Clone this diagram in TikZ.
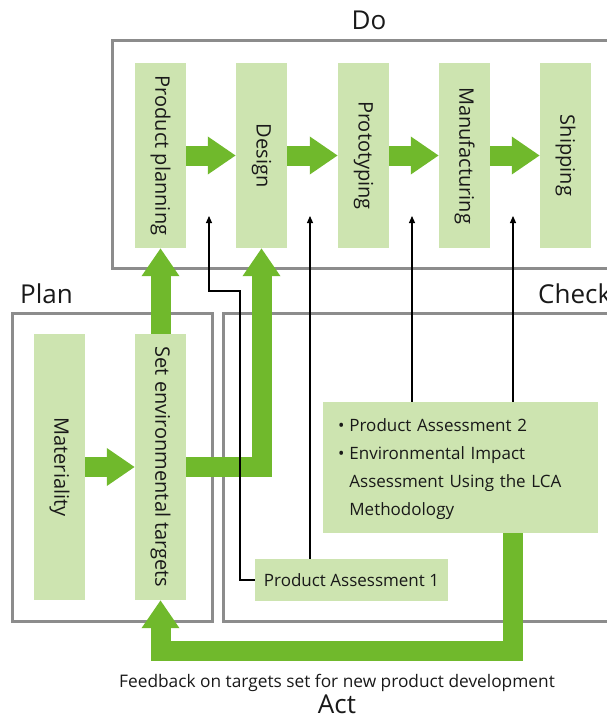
\documentclass[tikz,border=0pt]{standalone}
\usepackage{fontspec}
\setmainfont{Open Sans}
\usetikzlibrary{arrows.meta}
\definecolor{boxgreen}{RGB}{205,228,176}
\definecolor{arrgreen}{RGB}{112,185,44}
\definecolor{framegray}{RGB}{140,140,140}
\definecolor{txt}{RGB}{25,25,25}
\begin{document}
\begin{tikzpicture}[x=1pt,y=-1pt,
  frame/.style={draw=framegray,line width=3pt},
  stage/.style={fill=boxgreen,minimum width=51pt,minimum height=185pt,inner sep=0pt,
    font=\fontsize{20}{24}\selectfont,text=txt},
  planbox/.style={stage,minimum height=266pt},
  notebox/.style={fill=boxgreen,inner sep=0pt,font=\fontsize{17}{28}\selectfont,text=txt},
  phase/.style={font=\fontsize{26}{30}\selectfont,text=txt,inner sep=0pt},
  bigarrow/.style={draw=arrgreen,line width=20pt,
    -{Triangle[length=28pt 0 0,width=36pt 0 0]}},
  thinarrow/.style={draw=black,line width=1.1pt,
    -{Triangle[length=7pt 0 0,width=6pt 0 0]}}]
\useasboundingbox (0,0) rectangle (607,717);
\clip (0,0) rectangle (607,717);
% frames
\draw[frame] (112,41) rectangle (650,268);
\draw[frame] (12,313) rectangle (212,621);
\draw[frame] (223,313) rectangle (650,621);
% phase labels
\node[phase,anchor=base] (do) at (369,30) {Do};
\node[phase,anchor=base west] (plan) at (20,303) {Plan};
\node[phase,anchor=base west] (check) at (538,303) {Check};
\node[phase,anchor=base] (act) at (337,713) {Act};
\node[font=\fontsize{17.3}{20}\selectfont,text=txt,anchor=base,inner sep=0pt] (fb) at (337,687)
  {Feedback on targets set for new product development};
% stage boxes
\node[stage] (pp) at (160.5,155.5) {\rotatebox{-90}{Product planning}};
\node[stage] (design) at (261.5,155.5) {\rotatebox{-90}{Design}};
\node[stage] (proto) at (363.5,155.5) {\rotatebox{-90}{Prototyping}};
\node[stage] (manuf) at (464.5,155.5) {\rotatebox{-90}{Manufacturing}};
\node[stage] (ship) at (565.5,155.5) {\rotatebox{-90}{Shipping}};
\node[planbox] (mat) at (59.5,467) {\rotatebox{-90}{Materiality}};
\node[planbox] (set) at (160.5,467) {\rotatebox{-90}{Set environmental targets}};
\node[notebox,minimum width=275pt,minimum height=131pt,text width=245pt,align=left]
  (pa2) at (460.5,467.5)
  {\begin{tabular}{@{}l@{\hspace{5pt}}l@{}}
   \textbullet & Product Assessment 2\\
   \textbullet & Environmental Impact\\
   & Assessment Using the LCA\\
   & Methodology
   \end{tabular}};
\node[notebox,minimum width=193pt,minimum height=42pt] (pa1) at (351.5,580)
  {Product Assessment 1};
% coordinates for thin arrow tips
\coordinate (t1) at (209,216);
\coordinate (t2) at (310,216);
\coordinate (t3) at (412,216);
\coordinate (t4) at (513,216);
\coordinate (bend) at (240,291);
% green arrows
\draw[bigarrow] (pp.east) -- (design.west);
\draw[bigarrow] (design.east) -- (proto.west);
\draw[bigarrow] (proto.east) -- (manuf.west);
\draw[bigarrow] (manuf.east) -- (ship.west);
\draw[bigarrow] (mat.east) -- (set.west);
\draw[bigarrow] (set.north) -- (pp.south);
\draw[bigarrow] (set.east) -| (design.south);
\draw[bigarrow] (pa2.south -| t4) -- ++(0,118) -| (set.south);
% thin arrows
\draw[thinarrow] (pa1.west) -| (bend) -| (t1);
\draw[thinarrow] (pa1.north -| t2) -- (t2);
\draw[thinarrow] (pa2.north -| t3) -- (t3);
\draw[thinarrow] (pa2.north -| t4) -- (t4);
\end{tikzpicture}
\end{document}
